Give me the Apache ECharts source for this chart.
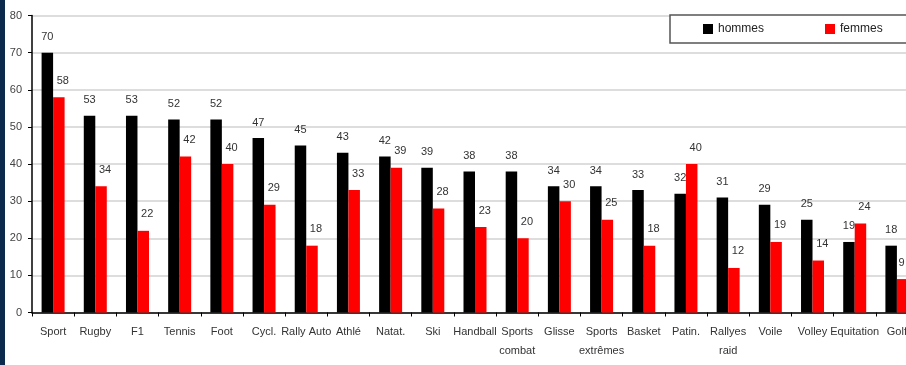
<!DOCTYPE html>
<html>
<head>
<meta charset="utf-8">
<script src="https://cdn.jsdelivr.net/npm/echarts@6/dist/echarts.min.js"></script>
<style>
  html, body { margin: 0; padding: 0; background: #fff; overflow: hidden; }
  #wrap { width: 906px; height: 365px; overflow: hidden; position: relative; }
  #chart { width: 930px; height: 365px; }
</style>
</head>
<body>
<div id="wrap"><div id="chart"></div></div>
<script>
// Sports followed, by gender (%)
const categories = ['Sport', 'Rugby', 'F1', 'Tennis', 'Foot', 'Cycl.', 'Rally Auto', 'Athlé', 'Natat.', 'Ski',
  'Handball', 'Sports\ncombat', 'Glisse', 'Sports\nextrêmes', 'Basket', 'Patin.', 'Rallyes\nraid', 'Voile',
  'Volley', 'Equitation', 'Golf'];
const hommes = [70, 53, 53, 52, 52, 47, 45, 43, 42, 39, 38, 38, 34, 34, 33, 32, 31, 29, 25, 19, 18];
const femmes = [58, 34, 22, 42, 40, 29, 18, 33, 39, 28, 23, 20, 30, 25, 18, 40, 12, 19, 14, 24, 9];
const yTicks = { min: 0, max: 80, step: 10 };

const font = 'Liberation Sans, Arial, sans-serif';
const chart = echarts.init(document.getElementById('chart'), null, { renderer: 'canvas' });

function valueLabel(dx, dist) {
  return {
    show: true,
    position: 'top',
    distance: dist,
    offset: [dx, 0],
    color: '#333',
    fontFamily: font,
    fontSize: 11
  };
}

// the last red label sits over its bar so it stays inside the frame
const femmesData = femmes.map((v, i) =>
  i === femmes.length - 1 ? { value: v, label: { offset: [-1, 0] } } : v);

chart.setOption({
  animation: false,
  backgroundColor: '#fff',
  textStyle: { fontFamily: font },
  graphic: [{
    type: 'rect',
    left: 0, top: 0,
    shape: { width: 5, height: 365 },
    style: { fill: '#0c2a4b' },
    z: 100
  }],
  grid: { left: 32, top: 15.5, width: 886, height: 297 },
  legend: {
    left: 670,
    top: 15,
    orient: 'horizontal',
    width: 400,
    padding: [8, 40, 8, 33],
    itemGap: 61,
    itemWidth: 10,
    itemHeight: 10,
    icon: 'rect',
    backgroundColor: '#fff',
    borderColor: '#555',
    borderWidth: 1.5,
    textStyle: { color: '#222', fontSize: 12, fontFamily: font },
    data: ['hommes', 'femmes']
  },
  xAxis: {
    type: 'category',
    data: categories,
    axisLine: { lineStyle: { color: '#000', width: 1.5 } },
    axisTick: { show: true, length: 4, lineStyle: { color: '#000' } },
    axisLabel: { color: '#333', fontSize: 11, fontFamily: font, margin: 10, lineHeight: 19, interval: 0 },
    splitLine: { show: false }
  },
  yAxis: {
    type: 'value',
    min: yTicks.min,
    max: yTicks.max,
    interval: yTicks.step,
    axisLine: { show: true, lineStyle: { color: '#000', width: 1.5 } },
    axisTick: { show: true, length: 4, lineStyle: { color: '#000' } },
    axisLabel: { color: '#444', fontSize: 11, fontFamily: font, margin: 10 },
    splitLine: { show: true, lineStyle: { color: '#d2d2d2', width: 1.5 } }
  },
  series: [
    {
      name: 'hommes',
      type: 'bar',
      data: hommes,
      barWidth: 11.5,
      barGap: '0%',
      itemStyle: { color: '#000' },
      label: valueLabel(0, 10)
    },
    {
      name: 'femmes',
      type: 'bar',
      data: femmesData,
      barWidth: 11.5,
      itemStyle: { color: '#ff0000' },
      label: valueLabel(4, 11)
    }
  ]
});
</script>
</body>
</html>
